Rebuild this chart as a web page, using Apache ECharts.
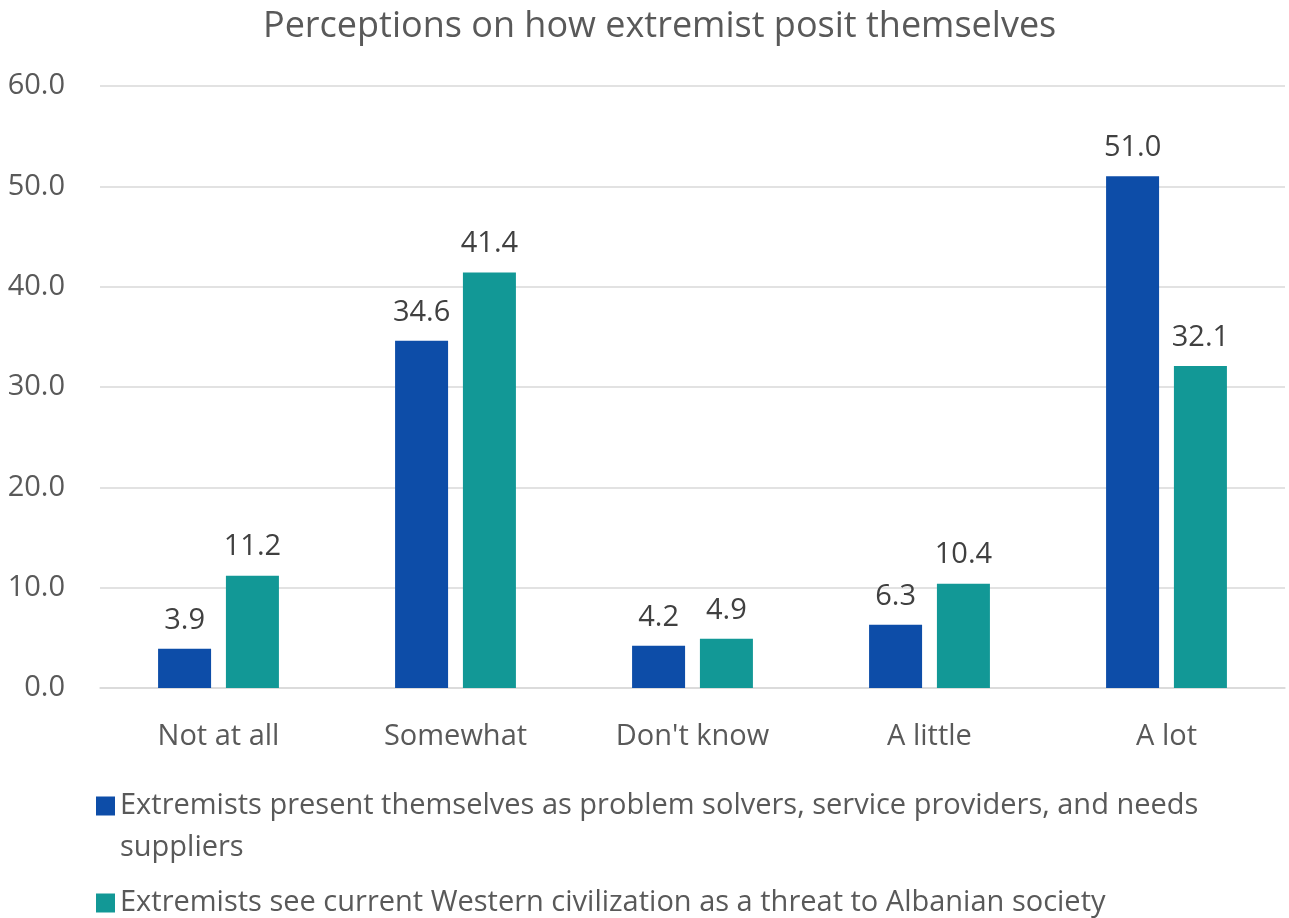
<!DOCTYPE html>
<html><head><meta charset="utf-8">
<script src="https://cdn.jsdelivr.net/npm/echarts@6/dist/echarts.min.js"></script>
<style>html,body{margin:0;padding:0;background:#fff}#c{width:1289px;height:918px}</style>
</head><body><div id="c"></div>
<script>
const categories = ["Not at all", "Somewhat", "Don't know", "A little", "A lot"];
const seriesNames = [
  "Extremists present themselves as problem solvers, service providers, and needs suppliers",
  "Extremists see current Western civilization as a threat to Albanian society"
];
const legendLines = {
  [seriesNames[0]]: " \nExtremists present themselves as problem solvers, service providers, and needs\nsuppliers",
  [seriesNames[1]]: seriesNames[1]
};
const problemSolvers = [3.9, 34.6, 4.2, 6.3, 51.0];
const westernThreat = [11.2, 41.4, 4.9, 10.4, 32.1];
const colors = ["#0D4DA8", "#129896"];
const font = "'Open Sans', 'Noto Sans', sans-serif";
const chart = echarts.init(document.getElementById('c'));
const lbl = {show: true, position: 'top', distance: 14, color: '#404040', fontSize: 29, fontFamily: font,
  formatter: p => p.value.toFixed(1)};
chart.setOption({
  animation: false,
  title: {text: 'Perceptions on how extremist posit themselves', left: 258, top: 4,
    textStyle: {fontSize: 36, fontWeight: 'normal', color: '#595959', fontFamily: font}},
  grid: {left: 100, right: 4, top: 86, bottom: 230, containLabel: false},
  legend: {orient: 'vertical', left: 91, top: 738, itemWidth: 19, itemHeight: 19, itemGap: 13,
    icon: 'rect',
    formatter: n => legendLines[n],
    textStyle: {fontSize: 29, color: '#595959', fontFamily: font, lineHeight: 42}},
  xAxis: {type: 'category', data: categories,
    axisLine: {show: true, lineStyle: {color: '#D9D9D9', width: 1.5}}, axisTick: {show: false},
    axisLabel: {fontSize: 29, color: '#595959', fontFamily: font, margin: 34}},
  yAxis: {type: 'value', min: 0, max: 60, interval: 10,
    axisLabel: {fontSize: 29, color: '#595959', fontFamily: font, margin: 35, formatter: v => v.toFixed(1)},
    splitLine: {lineStyle: {color: '#D9D9D9', width: 1.5}}},
  series: [
    {name: seriesNames[0], type: 'bar', data: problemSolvers, barWidth: 53, barGap: '28%',
      itemStyle: {color: colors[0]}, label: lbl},
    {name: seriesNames[1], type: 'bar', data: westernThreat, barWidth: 53,
      itemStyle: {color: colors[1]}, label: lbl}
  ]
});
</script></body></html>
